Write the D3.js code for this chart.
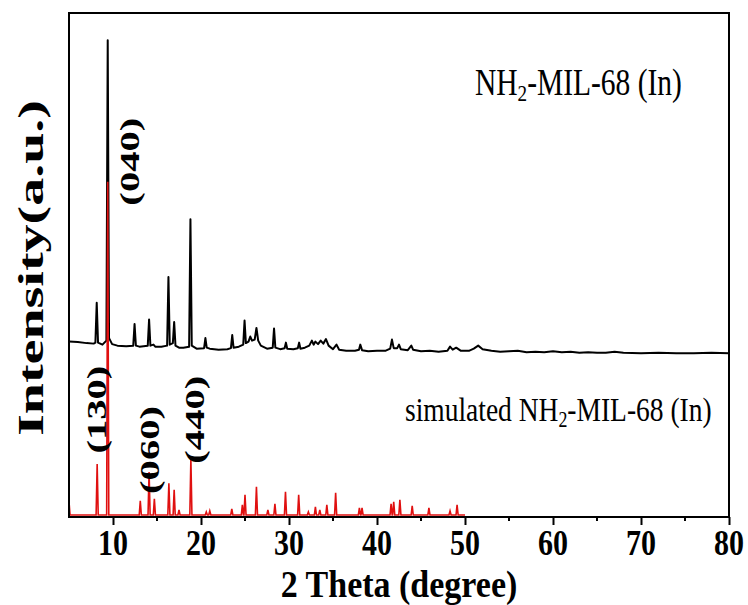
<!DOCTYPE html>
<html>
<head>
<meta charset="utf-8">
<script src="https://cdn.jsdelivr.net/npm/d3@7"></script>
<style>
  body { margin: 0; background: #fff; }
  text { font-family: "Liberation Serif", "Times New Roman", serif; fill: #000; }
</style>
</head>
<body>
<div id="chart"></div>
<script>
// measured pattern, [2theta, intensity a.u.]
const measured = [
  [5.0, 34.8], [6.0, 34.7], [7.0, 34.5], [7.8, 34.4], [8.0, 34.6], [8.15, 42.5], [8.3, 34.6],
  [8.8, 34.2], [9.25, 35.0], [9.4, 94.6], [9.55, 35.5], [9.9, 34.3], [10.5, 34.0], [11.5, 33.9],
  [12.3, 34.0], [12.45, 38.3], [12.6, 34.0], [13.0, 33.8], [13.95, 34.0], [14.1, 39.2], [14.25, 34.0],
  [14.6, 34.2], [14.8, 33.8], [15.5, 33.8], [16.15, 34.0], [16.3, 47.6], [16.45, 34.2], [16.8, 34.5],
  [16.95, 38.7], [17.1, 34.0], [17.5, 33.6], [18.0, 33.6], [18.65, 33.8], [18.8, 59.1], [18.95, 34.0],
  [19.5, 33.4], [20.35, 33.5], [20.5, 35.5], [20.65, 33.6], [21.0, 33.4], [22.0, 33.2], [23.0, 33.3],
  [23.4, 33.5], [23.55, 36.1], [23.7, 33.6], [24.3, 33.8], [24.8, 34.2], [24.95, 39.0], [25.1, 34.5],
  [25.4, 34.8], [25.6, 35.8], [25.8, 35.0], [26.1, 35.2], [26.3, 37.5], [26.5, 35.0], [26.8, 34.0],
  [27.5, 33.4], [28.15, 33.6], [28.3, 37.4], [28.45, 33.6], [29.0, 33.3], [29.5, 33.5], [29.65, 34.6],
  [29.8, 33.4], [30.5, 33.3], [31.0, 33.5], [31.15, 34.6], [31.3, 33.4], [31.8, 33.6], [32.3, 34.0],
  [32.6, 35.0], [32.8, 34.2], [33.0, 34.8], [33.3, 34.3], [33.6, 35.0], [33.9, 34.4], [34.2, 35.3],
  [34.5, 34.0], [35.0, 33.3], [35.4, 34.2], [35.7, 33.2], [36.5, 33.0], [37.5, 33.0], [37.95, 33.2],
  [38.1, 34.2], [38.3, 33.1], [39.0, 32.9], [40.0, 33.0], [41.0, 33.0], [41.5, 33.4], [41.7, 35.2],
  [41.9, 33.5], [42.3, 33.5], [42.5, 34.2], [42.7, 33.3], [43.5, 33.1], [43.9, 34.0], [44.1, 33.2],
  [45.0, 32.9], [46.0, 33.0], [47.0, 32.8], [48.0, 33.0], [48.3, 33.8], [48.6, 33.2], [49.0, 33.6],
  [49.5, 33.0], [50.5, 33.0], [51.0, 33.4], [51.5, 34.0], [52.0, 33.3], [53.0, 33.0], [54.0, 32.8],
  [55.0, 32.9], [56.0, 33.0], [57.0, 32.7], [58.0, 32.8], [59.0, 32.7], [60.0, 32.9], [61.0, 32.7],
  [62.0, 32.8], [63.0, 32.6], [64.0, 32.7], [65.0, 32.6], [66.0, 32.6], [67.0, 32.8], [68.0, 32.6],
  [70.0, 32.5], [72.0, 32.6], [74.0, 32.5], [76.0, 32.5], [78.0, 32.6], [80.0, 32.5]
];

// simulated reflections, [2theta, intensity a.u.]
const simBase = 0.4;
const simulated = [
  [5.0, 3.0], [8.2, 10.5], [9.4, 66.5], [13.1, 3.2], [14.1, 8.9], [14.7, 3.6], [16.35, 6.7],
  [16.95, 5.4], [17.5, 1.4], [18.85, 11.5], [20.6, 1.0], [21.0, 1.2], [23.5, 1.6], [24.7, 2.4],
  [25.0, 4.4], [26.3, 6.0], [27.6, 1.4], [28.4, 2.6], [29.6, 5.0], [31.1, 4.4], [32.2, 1.0],
  [33.0, 2.0], [33.5, 1.4], [34.3, 2.4], [35.3, 4.8], [38.0, 1.8], [38.3, 1.8], [41.6, 2.6],
  [41.9, 3.0], [42.6, 3.4], [44.0, 2.2], [45.9, 1.8], [48.3, 1.2], [49.1, 2.4]
];

const xTicks = [10, 20, 30, 40, 50, 60, 70, 80];
const xMinor = [15, 25, 35, 45, 55, 65, 75];

// hkl labels: text, 2theta, intensity (label centre)
const hkl = [
  ["(040)", 11.9, 70.5],
  ["(130)", 8.2, 21.3],
  ["(060)", 14.2, 13.3],
  ["(440)", 19.3, 19.3]
];

const w = 748, h = 605;
const margin = { top: 13, right: 19, bottom: 88, left: 69 };
const stretch = 1.2; // text in the original is drawn tall

const svg = d3.select("#chart").append("svg")
  .attr("width", w).attr("height", h);

const x = d3.scaleLinear().domain([5, 80]).range([margin.left, w - margin.right]);
const y = d3.scaleLinear().domain([0, 100]).range([h - margin.bottom, margin.top]);

// simulated as narrow sticks
const simPts = [];
simulated.forEach(([p, v]) => {
  if (p - 0.12 > 5) simPts.push([p - 0.12, simBase]);
  simPts.push([p, v]);
  simPts.push([p + 0.12, simBase]);
});
simPts.push([50, simBase]);

const line = d3.line().x(d => x(d[0])).y(d => y(d[1]));

svg.append("path")
  .datum(measured)
  .attr("d", line)
  .attr("fill", "none")
  .attr("stroke", "#000")
  .attr("stroke-width", 2)
  .attr("stroke-linejoin", "round");

svg.append("path")
  .datum(simPts)
  .attr("d", line)
  .attr("fill", "none")
  .attr("stroke", "#e01010")
  .attr("stroke-width", 1.6);

// frame
svg.append("rect")
  .attr("x", margin.left).attr("y", margin.top)
  .attr("width", w - margin.left - margin.right)
  .attr("height", h - margin.top - margin.bottom)
  .attr("fill", "none").attr("stroke", "#000").attr("stroke-width", 2);

// bottom axis (ticks only, labels drawn below)
const gx = svg.append("g").attr("transform", `translate(0,${h - margin.bottom})`);
gx.call(d3.axisBottom(x).tickValues(xTicks).tickSize(8).tickFormat(""))
  .call(g => g.select(".domain").remove())
  .call(g => g.selectAll("line").attr("stroke-width", 2));
gx.selectAll(".minor").data(xMinor).enter().append("line")
  .attr("x1", d => x(d)).attr("x2", d => x(d))
  .attr("y1", 0).attr("y2", 4)
  .attr("stroke", "#000").attr("stroke-width", 2);

svg.selectAll(".tick-label").data(xTicks).enter().append("text")
  .attr("transform", d => `translate(${x(d)},555) scale(1,${stretch})`)
  .attr("text-anchor", "middle")
  .attr("font-size", 30).attr("font-weight", "bold")
  .text(d => d);

svg.append("text")
  .attr("transform", `translate(${(margin.left + w - margin.right) / 2},597) scale(1,1.1)`)
  .attr("text-anchor", "middle")
  .attr("font-size", 34).attr("font-weight", "bold")
  .text("2 Theta (degree)");

svg.append("text")
  .attr("transform", `translate(31,268) scale(1,1.6) rotate(-90)`)
  .attr("text-anchor", "middle")
  .attr("dominant-baseline", "central")
  .attr("font-size", 35).attr("font-weight", "bold")
  .text("Intensity(a.u.)");

// hkl labels
svg.selectAll(".hkl").data(hkl).enter().append("text")
  .attr("transform", d => `translate(${x(d[1])},${y(d[2])}) scale(1,1.45) rotate(-90)`)
  .attr("text-anchor", "middle")
  .attr("dominant-baseline", "central")
  .attr("font-size", 28).attr("font-weight", "bold")
  .text(d => d[0]);

// series names
function nameLabel(tx, ty, size, prefix) {
  const t = svg.append("text")
    .attr("transform", `translate(${tx},${ty}) scale(1,1.25)`)
    .attr("font-size", size);
  t.append("tspan").text(prefix + "NH");
  t.append("tspan").attr("font-size", size * 0.65).attr("dy", 5).text("2");
  t.append("tspan").attr("dy", -5).text("-MIL-68 (In)");
}
nameLabel(475, 95, 29.5, "");
nameLabel(405, 421, 27.5, "simulated ");
</script>
</body>
</html>
